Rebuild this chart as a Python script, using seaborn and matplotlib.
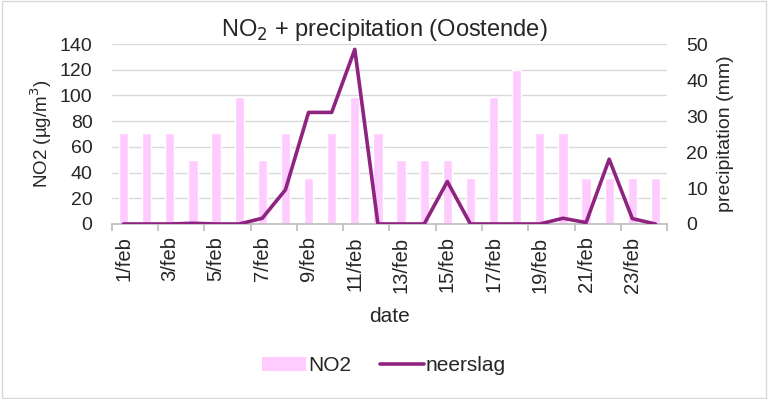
import matplotlib
matplotlib.use('Agg')
import matplotlib.pyplot as plt
import seaborn as sns
import numpy as np
import pandas as pd
from matplotlib.patches import Patch
from matplotlib.lines import Line2D

# data
days = [f'{d}/feb' for d in range(1, 25)]
no2 = [71, 71, 71, 50, 71, 99, 50, 71, 36, 71, 99, 71,
       50, 50, 50, 36, 99, 120, 71, 71, 36, 36, 36, 36]
neerslag = [0, 0, 0, 0.2, 0, 0, 1.6, 9.5, 31, 31, 48.5, 0,
            0, 0, 11.8, 0, 0, 0, 0, 1.6, 0.4, 18, 1.5, 0]

bar_color = '#FFCCFF'
line_color = '#8E2480'

sns.set_theme(style='white')
plt.rcParams['font.family'] = ['Liberation Sans', 'DejaVu Sans']

df = pd.DataFrame({'date': days, 'NO2': no2, 'neerslag': neerslag})

fig = plt.figure(figsize=(7.68, 3.99), dpi=100)
ax = fig.add_axes([0.1458, 0.4386, 0.7227, 0.4511])

sns.barplot(data=df, x='date', y='NO2', color=bar_color, saturation=1,
            width=0.4, ax=ax, zorder=2)
ax.set_xlim(-0.5, len(days) - 0.5)
ax.set_ylim(0, 140)
ax.set_yticks(range(0, 141, 20))
ax.grid(axis='y', color='#D9D9D9', linewidth=1, zorder=0)
ax.set_axisbelow(True)

# ticks on category boundaries, labels every other day
ax.set_xticks(np.arange(-0.5, len(days), 2))
ax.set_xticklabels([])
ax.set_xticks(np.arange(0, len(days), 2), minor=True)
ax.set_xticklabels(days[::2], minor=True, rotation=90, fontsize=14.5)
ax.tick_params(axis='x', which='major', length=5, color='#BFBFBF', bottom=True)
ax.tick_params(axis='x', which='minor', length=0, pad=9)
ax.tick_params(axis='y', labelsize=14, length=0, pad=14)

for s in ['top', 'right', 'left']:
    ax.spines[s].set_visible(False)
ax.spines['bottom'].set_color('#BFBFBF')

ax.set_xlabel('date', fontsize=15, labelpad=10)
ax.set_ylabel('NO2 (µg/m$^3$)', fontsize=13.5, labelpad=4)

ax2 = ax.twinx()
sns.lineplot(x=np.arange(len(days)), y=df['neerslag'], color=line_color,
             linewidth=2.6, ax=ax2)
ax2.set_ylim(0, 50)
ax2.set_yticks(range(0, 51, 10))
ax2.tick_params(axis='y', labelsize=14, length=0, pad=14)
ax2.set_ylabel('precipitation (mm)', fontsize=14, labelpad=6)
for s in ax2.spines.values():
    s.set_visible(False)
ax2.grid(False)

fig.text(0.5, 0.91, 'NO$_2$ + precipitation (Oostende)', ha='center',
         fontsize=17)

handles = [Patch(facecolor=bar_color, edgecolor='none', label='NO2'),
           Line2D([0], [0], color=line_color, linewidth=2.6, label='neerslag')]
fig.legend(handles=handles, loc='center', bbox_to_anchor=(0.5, 0.083),
           ncol=2, frameon=False, fontsize=15, handlelength=2.1,
           handleheight=0.6, columnspacing=1.4, handletextpad=0.1)

fig.patches.append(plt.Rectangle((0.002, 0.003), 0.995, 0.994,
                                 transform=fig.transFigure, fill=False,
                                 edgecolor='#D9D9D9', linewidth=1))

plt.savefig('out.png', dpi=100)
plt.close()
